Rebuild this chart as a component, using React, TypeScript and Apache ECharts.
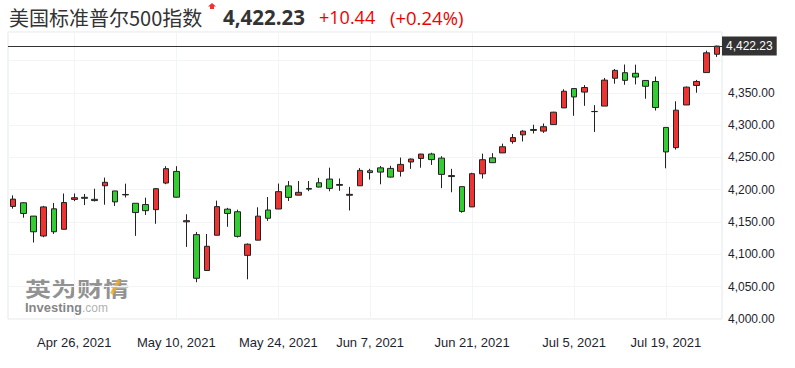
import React, { useEffect, useRef } from 'react';
import * as echarts from 'echarts';

const dates = [
  '2021-04-16', '2021-04-19', '2021-04-20', '2021-04-21', '2021-04-22', '2021-04-23', '2021-04-26', '2021-04-27', '2021-04-28', '2021-04-29', '2021-04-30',
  '2021-05-03', '2021-05-04', '2021-05-05', '2021-05-06', '2021-05-07', '2021-05-10', '2021-05-11', '2021-05-12', '2021-05-13', '2021-05-14',
  '2021-05-17', '2021-05-18', '2021-05-19', '2021-05-20', '2021-05-21', '2021-05-24', '2021-05-25', '2021-05-26', '2021-05-27', '2021-05-28',
  '2021-06-01', '2021-06-02', '2021-06-03', '2021-06-04', '2021-06-07', '2021-06-08', '2021-06-09', '2021-06-10', '2021-06-11',
  '2021-06-14', '2021-06-15', '2021-06-16', '2021-06-17', '2021-06-18', '2021-06-21', '2021-06-22', '2021-06-23', '2021-06-24', '2021-06-25',
  '2021-06-28', '2021-06-29', '2021-06-30', '2021-07-01', '2021-07-02', '2021-07-06', '2021-07-07', '2021-07-08', '2021-07-09',
  '2021-07-12', '2021-07-13', '2021-07-14', '2021-07-15', '2021-07-16', '2021-07-19', '2021-07-20', '2021-07-21', '2021-07-22', '2021-07-23',
  '2021-07-26',
];

const opens = [
  4174.14, 4179.80, 4159.18, 4128.42, 4170.46, 4138.78, 4185.03, 4188.25, 4185.14, 4206.14, 4198.10,
  4191.98, 4179.04, 4177.06, 4169.14, 4210.34, 4228.29, 4150.34, 4130.55, 4074.99, 4129.58,
  4169.92, 4165.94, 4098.45, 4121.97, 4168.61, 4170.16, 4205.94, 4191.59, 4201.94, 4210.77,
  4216.52, 4206.82, 4191.43, 4206.05, 4229.34, 4233.81, 4232.99, 4228.56, 4242.90,
  4248.31, 4255.28, 4248.87, 4220.37, 4204.78, 4173.40, 4224.61, 4249.27, 4256.97, 4274.45,
  4284.90, 4293.21, 4290.65, 4300.73, 4326.60, 4356.46, 4351.01, 4321.07, 4329.38,
  4372.41, 4381.07, 4380.11, 4369.02, 4367.43, 4296.40, 4265.11, 4331.13, 4361.27, 4381.20,
  4409.58,
];

const closes = [
  4185.47, 4163.26, 4134.94, 4173.42, 4134.98, 4180.17, 4187.62, 4186.72, 4183.18, 4211.47, 4181.17,
  4192.66, 4164.66, 4167.59, 4201.62, 4232.60, 4188.43, 4152.10, 4063.04, 4112.50, 4173.85,
  4163.29, 4127.83, 4115.68, 4159.12, 4155.86, 4197.05, 4188.13, 4195.99, 4200.88, 4204.11,
  4202.04, 4208.12, 4192.85, 4229.89, 4226.52, 4227.26, 4219.55, 4239.18, 4247.44,
  4255.15, 4246.59, 4223.70, 4221.86, 4166.45, 4224.79, 4246.44, 4241.84, 4266.49, 4280.70,
  4290.61, 4291.80, 4297.50, 4319.94, 4352.34, 4343.54, 4358.13, 4320.82, 4369.55,
  4384.63, 4369.21, 4374.30, 4360.03, 4327.16, 4258.49, 4323.06, 4358.69, 4367.48, 4411.79,
  4422.23,
];

const lows = [
  4170.75, 4156.70, 4118.38, 4126.56, 4131.58, 4138.78, 4182.36, 4176.22, 4181.78, 4176.81, 4174.85,
  4188.03, 4128.59, 4160.94, 4147.33, 4208.52, 4188.13, 4111.53, 4056.88, 4074.99, 4129.58,
  4142.69, 4125.99, 4061.41, 4121.97, 4151.72, 4170.16, 4182.52, 4191.59, 4197.78, 4203.57,
  4197.59, 4198.27, 4167.93, 4206.05, 4215.66, 4208.41, 4218.74, 4220.34, 4232.25,
  4234.08, 4238.35, 4202.45, 4196.05, 4164.40, 4173.40, 4217.27, 4241.43, 4256.97, 4271.16,
  4274.67, 4287.04, 4287.96, 4300.73, 4326.60, 4314.37, 4329.79, 4289.37, 4329.38,
  4364.03, 4362.36, 4362.90, 4340.70, 4322.53, 4233.13, 4262.05, 4331.13, 4350.06, 4381.20,
  4405.45,
];

const highs = [
  4191.31, 4180.81, 4159.18, 4175.02, 4179.57, 4194.17, 4194.19, 4193.35, 4201.53, 4218.78, 4198.10,
  4209.39, 4179.04, 4187.72, 4202.70, 4236.39, 4236.39, 4162.04, 4134.73, 4131.58, 4183.13,
  4171.92, 4169.15, 4116.93, 4172.80, 4188.72, 4209.52, 4213.42, 4213.38, 4213.38, 4218.36,
  4234.12, 4217.37, 4204.39, 4233.45, 4232.34, 4236.74, 4237.09, 4249.74, 4248.38,
  4255.59, 4257.16, 4251.89, 4232.29, 4204.78, 4226.24, 4255.84, 4256.60, 4271.28, 4286.12,
  4292.14, 4300.52, 4302.43, 4320.66, 4355.43, 4356.46, 4361.88, 4330.88, 4372.87,
  4386.68, 4393.68, 4393.39, 4369.02, 4375.09, 4296.40, 4336.84, 4359.70, 4369.87, 4415.18,
  4422.73,
];

const xTickDates = ['2021-04-26', '2021-05-10', '2021-05-24', '2021-06-07', '2021-06-21', '2021-07-06', '2021-07-19'];
const xTickLabels = ['Apr 26, 2021', 'May 10, 2021', 'May 24, 2021', 'Jun 7, 2021', 'Jun 21, 2021', 'Jul 5, 2021', 'Jul 19, 2021'];
const yTickValues = [4000, 4050, 4100, 4150, 4200, 4250, 4300, 4350];

const lastPrice = 4422.23;
const titleText = '美国标准普尔500指数';
const priceText = '4,422.23';
const changeText = '+10.44';
const changePctText = '(+0.24%)';

const fmt = (v: number) =>
  v.toLocaleString('en-US', { minimumFractionDigits: 2, maximumFractionDigits: 2 });

export default function App() {
  const ref = useRef<HTMLDivElement>(null);

  useEffect(() => {
    if (!ref.current) return;
    const chart = echarts.init(ref.current, null, { renderer: 'svg' });
    const data = dates.map((_, i) => [opens[i], closes[i], lows[i], highs[i]]);
    const labelMap: Record<string, string> = {};
    xTickDates.forEach((d, i) => (labelMap[d] = xTickLabels[i]));
    const isTick = (_i: number, v: string) => labelMap[v] !== undefined;
    const sans = '"Liberation Sans", Arial, sans-serif';
    const cjk = '"Noto Sans CJK SC", "Noto Sans", sans-serif';
    const open = '"Open Sans", "Noto Sans", sans-serif';

    chart.setOption({
      animation: false,
      grid: {
        left: 8,
        right: 73,
        top: 32,
        bottom: 49,
        show: true,
        borderColor: '#e4e7eb',
        borderWidth: 1,
        backgroundColor: 'transparent',
      },
      xAxis: {
        type: 'category',
        data: dates,
        boundaryGap: true,
        axisLine: { show: false },
        axisTick: { show: false },
        axisLabel: {
          interval: isTick,
          formatter: (v: string) => labelMap[v] || '',
          margin: 17,
          fontSize: 13,
          color: '#1e1e2e',
          fontFamily: sans,
        },
        splitLine: {
          show: true,
          interval: isTick,
          alignWithLabel: true,
          lineStyle: { color: '#f3f4f5', width: 1 },
        },
      },
      yAxis: {
        type: 'value',
        position: 'right',
        min: 4000,
        max: 4444,
        interval: 50,
        axisLine: { show: false },
        axisTick: { show: false },
        axisLabel: {
          showMaxLabel: false,
          margin: 6,
          fontSize: 12,
          color: '#1e1e2e',
          fontFamily: sans,
          formatter: (v: number) => (yTickValues.indexOf(v) >= 0 ? fmt(v) : ''),
        },
        splitLine: { show: true, lineStyle: { color: '#f3f4f5', width: 1 } },
      },
      series: [
        {
          type: 'candlestick',
          data,
          barWidth: 6,
          itemStyle: {
            color: '#ee3333',
            color0: '#33cc33',
            borderColor: '#222222',
            borderColor0: '#222222',
            borderWidth: 1,
          },
          markLine: {
            silent: true,
            symbol: 'none',
            data: [{ yAxis: lastPrice }],
            lineStyle: { color: '#333333', type: 'solid', width: 1 },
            label: {
              show: true,
              position: 'end',
              distance: 0,
              formatter: () => priceText,
              backgroundColor: '#333333',
              color: '#ffffff',
              padding: [4, 4, 3, 4],
              fontSize: 12,
              fontFamily: sans,
            },
            emphasis: { disabled: true },
          },
        },
      ],
      graphic: [
        {
          type: 'text',
          x: 9,
          y: 17,
          style: { text: titleText, fontSize: 20, fontFamily: cjk, fill: '#333333', verticalAlign: 'middle' },
        },
        {
          type: 'polygon',
          shape: {
            points: [[212, 3], [216, 6.5], [214, 6.5], [214, 9], [210, 9], [210, 6.5], [208, 6.5]],
          },
          style: { fill: '#ee3333' },
        },
        {
          type: 'text',
          x: 223,
          y: 17,
          style: { text: priceText, fontSize: 20.5, fontWeight: 'bold', fontFamily: open, fill: '#333333', verticalAlign: 'middle' },
        },
        {
          type: 'text',
          x: 319,
          y: 17,
          style: { text: changeText, fontSize: 18, fontFamily: open, fill: '#ee0000', verticalAlign: 'middle' },
        },
        {
          type: 'text',
          x: 390,
          y: 17,
          style: { text: changePctText, fontSize: 18.5, fontFamily: open, fill: '#ee0000', verticalAlign: 'middle' },
        },
        {
          type: 'text',
          x: 25,
          y: 288,
          scaleY: 0.8,
          style: { text: '英为财情', fontSize: 26, fontWeight: 'bold', fontFamily: cjk, fill: 'rgba(110,110,110,0.75)', verticalAlign: 'middle' },
        },
        {
          type: 'polygon',
          shape: { points: [[118, 279], [121, 281], [113, 295], [110, 293]] },
          style: { fill: 'rgba(245,170,40,0.8)' },
        },
        {
          type: 'text',
          x: 25,
          y: 307,
          style: { text: 'Investing', fontSize: 13, fontWeight: 'bold', fontFamily: sans, fill: 'rgba(100,100,100,0.8)', verticalAlign: 'middle' },
        },
        {
          type: 'text',
          x: 82,
          y: 308,
          style: { text: '.com', fontSize: 12, fontFamily: sans, fill: 'rgba(140,140,140,0.7)', verticalAlign: 'middle' },
        },
      ],
    });

    return () => chart.dispose();
  }, []);

  return <div ref={ref} style={{ position: 'absolute', left: 0, top: 0, width: 795, height: 368 }} />;
}
